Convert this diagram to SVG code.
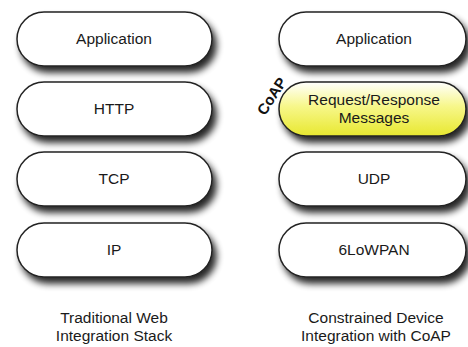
<svg xmlns="http://www.w3.org/2000/svg" width="468" height="347" viewBox="0 0 468 347">
<style>
.pill{fill:#fff;stroke:#222;stroke-width:1.5;filter:url(#sh)}
.y{fill:url(#yg)}
text{font-family:"Liberation Sans",Arial,sans-serif;font-size:15.5px;fill:#1a1a1a;text-anchor:middle}
.coap{font-weight:bold;font-size:15px;fill:#111}
</style>
<defs>
<filter id="sh" x="-10%" y="-20%" width="130%" height="160%">
<feGaussianBlur in="SourceAlpha" stdDeviation="3.5"/>
<feOffset dx="4" dy="6" result="b"/>
<feComponentTransfer><feFuncA type="linear" slope="0.85"/></feComponentTransfer>
<feMerge><feMergeNode/><feMergeNode in="SourceGraphic"/></feMerge>
</filter>
<linearGradient id="yg" x1="0" y1="0" x2="0" y2="1">
<stop offset="0" stop-color="#ffffff"/>
<stop offset="0.45" stop-color="#f7f78a"/>
<stop offset="1" stop-color="#e8e830"/>
</linearGradient>
</defs>
<g id="l-app"><rect class="pill" x="17" y="12" width="195" height="54" rx="27"/><text x="114" y="44">Application</text></g>
<g id="l-http"><rect class="pill" x="17" y="82" width="195" height="54" rx="27"/><text x="114" y="114">HTTP</text></g>
<g id="l-tcp"><rect class="pill" x="17" y="152" width="195" height="54" rx="27"/><text x="114" y="184">TCP</text></g>
<g id="l-ip"><rect class="pill" x="17" y="223" width="195" height="54" rx="27"/><text x="114" y="255">IP</text></g>
<g id="r-app"><rect class="pill" x="279" y="12" width="187" height="54" rx="27"/><text x="374" y="44">Application</text></g>
<g id="r-coap"><rect class="pill y" x="279" y="82" width="187" height="54" rx="27"/><text x="374" y="105">Request/Response</text><text x="374" y="123">Messages</text></g>
<g id="r-udp"><rect class="pill" x="279" y="152" width="187" height="54" rx="27"/><text x="374" y="184">UDP</text></g>
<g id="r-6lo"><rect class="pill" x="279" y="223" width="187" height="54" rx="27"/><text x="374" y="255">6LoWPAN</text></g>
<text class="coap" transform="translate(276,99) rotate(-57)">CoAP</text>
<g id="labels">
<text x="114" y="323">Traditional Web</text>
<text x="114" y="341">Integration Stack</text>
<text x="376" y="323">Constrained Device</text>
<text x="376" y="341">Integration with CoAP</text>
</g>
<g id="connectors"/>
</svg>
